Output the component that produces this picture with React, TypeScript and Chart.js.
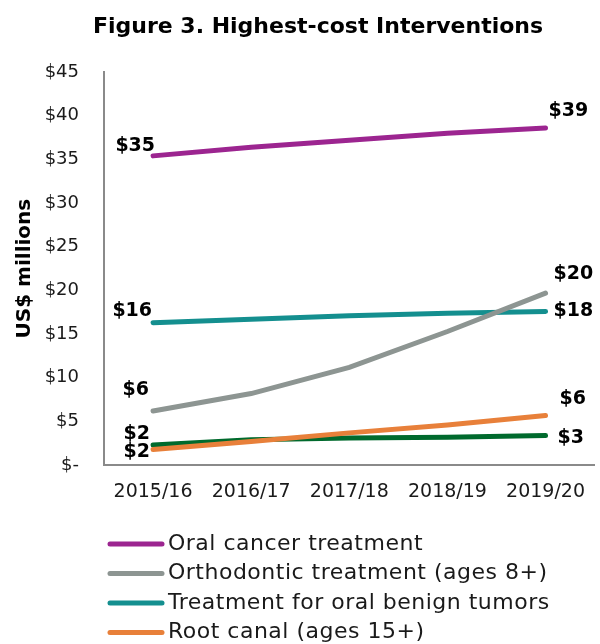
import React, { useEffect, useRef } from 'react';
import { Chart, registerables } from 'chart.js';
Chart.register(...registerables);

const categories = ['2015/16', '2016/17', '2017/18', '2018/19', '2019/20'];
const seriesNames = [
  'Oral cancer treatment',
  'Orthodontic treatment (ages 8+)',
  'Treatment for oral benign tumors',
  'Root canal (ages 15+)',
  'Tooth extraction',
];
const oralCancer = [35.4, 36.4, 37.2, 38.0, 38.6];
const orthodontic = [6.2, 8.2, 11.2, 15.3, 19.7];
const benignTumors = [16.3, 16.7, 17.1, 17.4, 17.6];
const rootCanal = [1.8, 2.7, 3.7, 4.6, 5.7];
const extraction = [2.3, 2.9, 3.1, 3.2, 3.4];
const yMin = 0;
const yMax = 45;
const yStep = 5;

const colors = ['#9C2590', '#8D9592', '#148F8F', '#E8803A', '#006A2D'];
const seriesValues = [oralCancer, orthodontic, benignTumors, rootCanal, extraction];

// label placement: [startDx, startDy, endDx, endDy]
const labelOffsets = [
  [2, -10, 3, -17],
  [-4, -21, 8, -19],
  [-1, -12, 8, 0],
  [-3, 3, 14, -16],
  [-3, -11, 12, 3],
];

const FONT = '"DejaVu Sans", sans-serif';
const TEXT = '#1a1a1a';

const overlayPlugin = {
  id: 'overlay',
  afterDatasetsDraw(chart: any) {
    const ctx = chart.ctx;
    ctx.save();
    // end labels
    ctx.font = `bold 19px ${FONT}`;
    ctx.fillStyle = '#000';
    ctx.textBaseline = 'middle';
    chart.data.datasets.forEach((ds: any, i: number) => {
      const meta = chart.getDatasetMeta(i);
      const pts = meta.data;
      const first = pts[0];
      const last = pts[pts.length - 1];
      const off = labelOffsets[i];
      ctx.textAlign = 'right';
      ctx.fillText('$' + Math.round(ds.data[0]), first.x + off[0], first.y + off[1]);
      ctx.textAlign = 'left';
      ctx.fillText('$' + Math.round(ds.data[ds.data.length - 1]), last.x + off[2], last.y + off[3]);
    });
    // title
    ctx.font = `bold 22px ${FONT}`;
    ctx.textAlign = 'center';
    ctx.fillStyle = '#000';
    ctx.fillText('Figure 3. Highest-cost Interventions', 318, 27);
    // legend
    ctx.font = `22px ${FONT}`;
    ctx.textAlign = 'left';
    try { (ctx as any).letterSpacing = '0.5px'; } catch (e) {}
    chart.data.datasets.forEach((ds: any, i: number) => {
      const y = 544 + i * 29.5;
      ctx.strokeStyle = ds.borderColor;
      ctx.lineWidth = 5;
      ctx.lineCap = 'round';
      ctx.beginPath();
      ctx.moveTo(110, y);
      ctx.lineTo(162, y);
      ctx.stroke();
      ctx.fillStyle = TEXT;
      ctx.fillText(ds.label, 168, y);
    });
    ctx.restore();
  },
};

export default function App() {
  const ref = useRef<HTMLCanvasElement>(null);
  useEffect(() => {
    document.body.style.margin = '0';
    const chart = new Chart(ref.current!, {
      type: 'line',
      data: {
        labels: categories,
        datasets: seriesValues.map((vals, i) => ({
          label: seriesNames[i],
          data: vals,
          borderColor: colors[i],
          backgroundColor: colors[i],
          borderWidth: 5,
          borderCapStyle: 'round',
          pointRadius: 0,
          tension: 0,
        })),
      },
      options: {
        animation: false,
        responsive: false,
        layout: { padding: { top: 72, right: -3, bottom: 182, left: 0 } },
        plugins: {
          legend: { display: false },
          title: { display: false },
          tooltip: { enabled: false },
        },
        scales: {
          x: {
            offset: true,
            grid: { display: false, drawTicks: false },
            border: { display: true, color: '#8a8a8a', width: 2 },
            ticks: { color: TEXT, font: { family: FONT, size: 19 }, padding: 15 },
          },
          y: {
            min: yMin,
            max: yMax,
            afterFit: (s: any) => { s.width = 104; },
            grid: { display: false, drawTicks: false },
            border: { display: true, color: '#8a8a8a', width: 2 },
            ticks: {
              stepSize: yStep,
              color: TEXT,
              padding: 25,
              font: { family: FONT, size: 18 },
              callback: (v: any) => (v === 0 ? '$-' : '$' + v),
            },
            title: {
              display: true,
              text: 'US$ millions',
              color: '#000',
              font: { family: FONT, size: 20, weight: 'bold' },
              padding: { top: 13, bottom: 0 },
            },
          },
        },
      },
      plugins: [overlayPlugin],
    });
    return () => chart.destroy();
  }, []);
  return <canvas ref={ref} width={600} height={700} style={{ display: 'block' }} />;
}
